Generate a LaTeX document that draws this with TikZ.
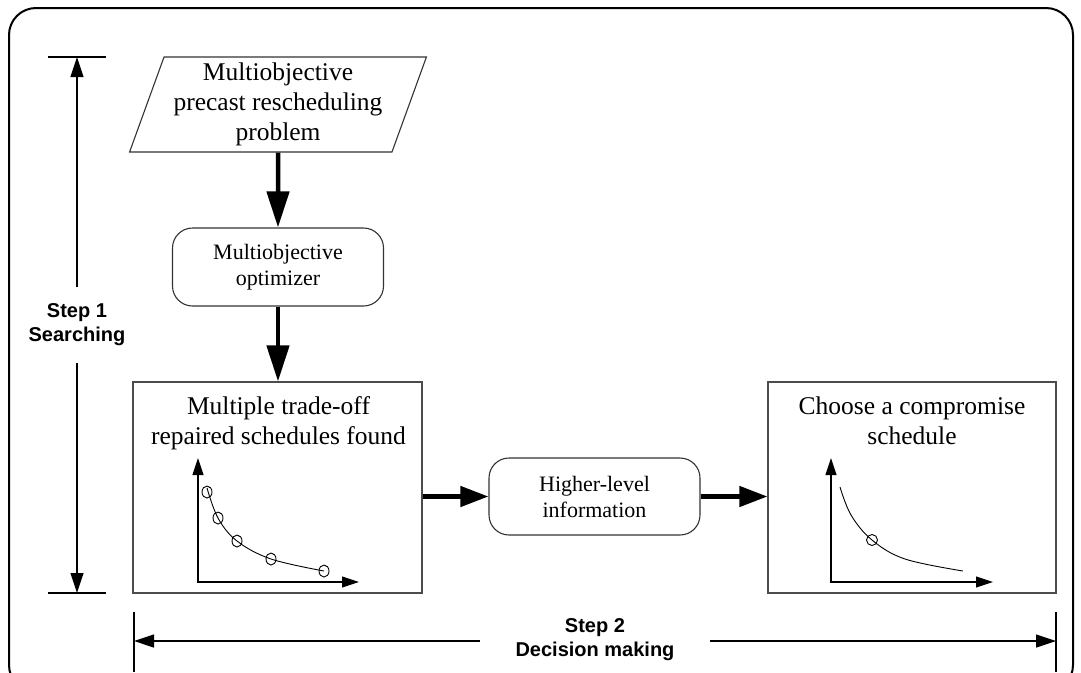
\documentclass[tikz,border=0pt]{standalone}
\usepackage{fontspec}
\setmainfont{Liberation Serif}
\newfontfamily\labelfont{Liberation Sans}
\usetikzlibrary{arrows.meta,shapes.geometric}

\begin{document}
\begin{tikzpicture}[x=1pt,y=-1pt,
  bigtext/.style={font=\fontsize{25.5}{30}\selectfont, align=center},
  smalltext/.style={font=\fontsize{22}{26}\selectfont, align=center},
  steptext/.style={font=\labelfont\bfseries\fontsize{20}{24}\selectfont, align=center, inner sep=0pt},
  panel/.style={draw=black!70, line width=1.1pt, inner sep=0pt},
  roundbox/.style={draw=black!80, line width=1.1pt, rounded corners=20pt, inner sep=0pt, smalltext},
  flow/.style={line width=4.5pt, -{Triangle[length=36pt,width=22pt]}},
  flowh/.style={line width=4.5pt, -{Triangle[length=28pt,width=20pt]}},
  dim/.style={line width=1.2pt, -{Triangle[length=20pt,width=13pt]}},
  tickline/.style={line width=1.2pt},
  axes/.style={line width=1.1pt, {Triangle[length=17pt,width=11pt]}-{Triangle[length=17pt,width=11pt]}},
  curve/.style={line width=0.9pt}]

\clip (0,0) rectangle (1081,672);

% outer frame
\draw[line width=2pt, rounded corners=27pt] (9,8) rectangle (1073,692);

% flow nodes
\node[trapezium, trapezium left angle=69.2, trapezium right angle=110.8,
      trapezium stretches=true, minimum width=298pt, minimum height=95pt,
      draw=black!80, line width=1.1pt, inner sep=0pt, bigtext]
      (prob) at (278,104.5) {Multiobjective\\precast rescheduling\\problem};
\node[roundbox, minimum width=211pt, minimum height=78pt] (opt) at (278,267)
      {Multiobjective\\optimizer};
\node[panel, minimum width=289pt, minimum height=211pt] (found) at (277.5,487.5) {};
\node[bigtext] (foundtext) at (278.5,423) {Multiple trade-off\\repaired schedules found};
\node[roundbox, minimum width=211pt, minimum height=77pt] (info) at (594.5,496.5)
      {Higher-level\\information};
\node[panel, minimum width=288pt, minimum height=211pt] (choose) at (912,487.5) {};
\node[bigtext] (choosetext) at (912,421) {Choose a compromise\\schedule};

% flow connectors
\draw[flow] (prob.south) -- (opt.north);
\draw[flow] (opt.south) -- (opt.south |- found.north);
\draw[flowh] (found.east |- info.west) -- (info.west);
\draw[flowh] (info.east) -- (info.east -| choose.west);

% trade-off front
\draw[axes] (198,458) -- (198,582) -- (359,582);
\draw[curve] plot[smooth, tension=0.6] coordinates
  {(207,488) (218,518) (237,541) (271,559) (324,571)};
\foreach \p in {(207,492),(218,518),(237,541),(271,559),(324,571)}
  \draw[curve] \p ellipse[x radius=5, y radius=6];

% chosen compromise
\draw[axes] (831,458) -- (831,582) -- (993,582);
\draw[curve] plot[smooth, tension=0.6] coordinates
  {(840,487) (851,515) (872,540) (905,559) (963,571)};
\draw[curve] (872,540) ellipse[x radius=5.5, y radius=5.5];

% step 1 dimension
\coordinate (s1top) at (77,57);
\coordinate (s1bot) at (77,593);
\draw[tickline] (48,57) -- (106,57);
\draw[tickline] (48,593) -- (106,593);
\node[steptext, minimum height=76pt] (s1) at (77,325) {Step 1\\Searching};
\draw[dim] (s1.north) -- (s1top);
\draw[dim] (s1.south) -- (s1bot);

% step 2 dimension
\coordinate (s2left) at (134,641);
\coordinate (s2right) at (1056,641);
\draw[tickline] (134,612) -- (134,672);
\draw[tickline] (1056,612) -- (1056,672);
\node[steptext, minimum width=230pt] (s2) at (595,640) {Step 2\\Decision making};
\draw[dim] (s2.west |- s2left) -- (s2left);
\draw[dim] (s2.east |- s2right) -- (s2right);
\end{tikzpicture}
\end{document}
